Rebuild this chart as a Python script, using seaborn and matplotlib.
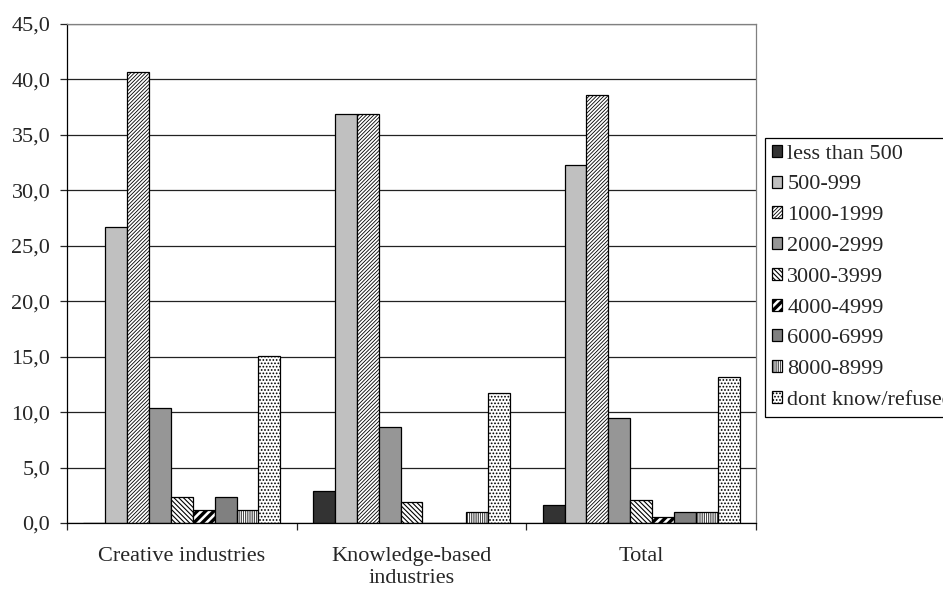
import pandas as pd
import matplotlib.pyplot as plt
from matplotlib.patches import Patch
from matplotlib.ticker import FixedLocator
import seaborn as sns

# data
groups = ['Creative industries', 'Knowledge-based\nindustries', 'Total']
bands = ['less than 500', '500-999', '1000-1999', '2000-2999', '3000-3999',
         '4000-4999', '6000-6999', '8000-8999', 'dont know/refused']
creative = [0.0, 26.7, 40.7, 10.4, 2.3, 1.2, 2.3, 1.2, 15.1]
knowledge = [2.9, 36.9, 36.9, 8.7, 1.9, 0.0, 0.0, 1.0, 11.7]
total = [1.6, 32.3, 38.6, 9.5, 2.1, 0.5, 1.0, 1.0, 13.2]

faces = ['#333333', '#c0c0c0', 'white', '#969696', 'white',
         'white', '#808080', 'white', 'white']
hatches = [None, None, '/' * 9, None, '\\' * 7, '////', None, '|' * 9, '.....']
hatch_lw = [1, 1, 0.6, 1, 0.8, 2.4, 1, 0.5, 0.8]

rows = []
for g, vals in zip(groups, [creative, knowledge, total]):
    for b, v in zip(bands, vals):
        rows.append({'group': g, 'band': b, 'value': v})
df = pd.DataFrame(rows)

sns.set_style('white')
plt.rcParams['font.family'] = ['Liberation Serif', 'DejaVu Serif']
plt.rcParams['hatch.linewidth'] = 0.8

fig = plt.figure(figsize=(9.43, 5.89), dpi=100)
ax = fig.add_axes([67 / 943, 66 / 589, 689 / 943, 499 / 589])

sns.barplot(data=df, x='group', y='value', hue='band', hue_order=bands,
            palette=faces, width=0.857, gap=0, edgecolor='black',
            linewidth=0.9, saturation=1, legend=False, ax=ax)

for cont, fc, h, hl in zip(ax.containers, faces, hatches, hatch_lw):
    for bar in cont:
        bar.set_facecolor(fc)
        bar.set_edgecolor('black')
        if h:
            bar.set_hatch(h)
            if hasattr(bar, 'set_hatch_linewidth'):
                bar.set_hatch_linewidth(hl)

ax.set_ylim(0, 45)
ax.set_xlim(-0.5, 2.5)
yt = list(range(0, 50, 5))
ax.set_yticks(yt)
ax.set_yticklabels([f'{v:.1f}'.replace('.', ',') for v in yt], fontsize=16)
ax.yaxis.grid(True, color='#222222', linewidth=0.9)
ax.set_axisbelow(True)
ax.tick_params(axis='y', direction='out', length=5, width=0.9, pad=7, left=True)

ax.set_xticks(range(len(groups)))
ax.set_xticklabels(groups, fontsize=16, linespacing=1.25)
ax.tick_params(axis='x', which='major', length=0, pad=17)
ax.xaxis.set_minor_locator(FixedLocator([-0.5, 0.5, 1.5, 2.5]))
ax.tick_params(axis='x', which='minor', length=5, width=0.9, direction='out',
               bottom=True)
ax.set_xlabel('')
ax.set_ylabel('')

for side in ['left', 'bottom']:
    ax.spines[side].set_color('black')
    ax.spines[side].set_linewidth(0.9)
for side in ['top', 'right']:
    ax.spines[side].set_color('#808080')
    ax.spines[side].set_linewidth(0.9)

handles = []
for fc, h in zip(faces, hatches):
    handles.append(Patch(facecolor=fc, edgecolor='black', hatch=h, linewidth=0.9))
leg = fig.legend(handles, bands, loc='upper left',
                 bbox_to_anchor=(765 / 943, 1 - 138 / 589),
                 borderaxespad=0, fontsize=16, frameon=True, fancybox=False,
                 edgecolor='black', framealpha=1, handlelength=0.45,
                 handleheight=0.45, handletextpad=0.25, labelspacing=0.53,
                 borderpad=0.3)
leg.get_frame().set_linewidth(0.9)
for lh, h, hl in zip(leg.legend_handles, hatches, hatch_lw):
    if h and hasattr(lh, 'set_hatch_linewidth'):
        lh.set_hatch_linewidth(hl)

fig.savefig('out.png', dpi=100)
